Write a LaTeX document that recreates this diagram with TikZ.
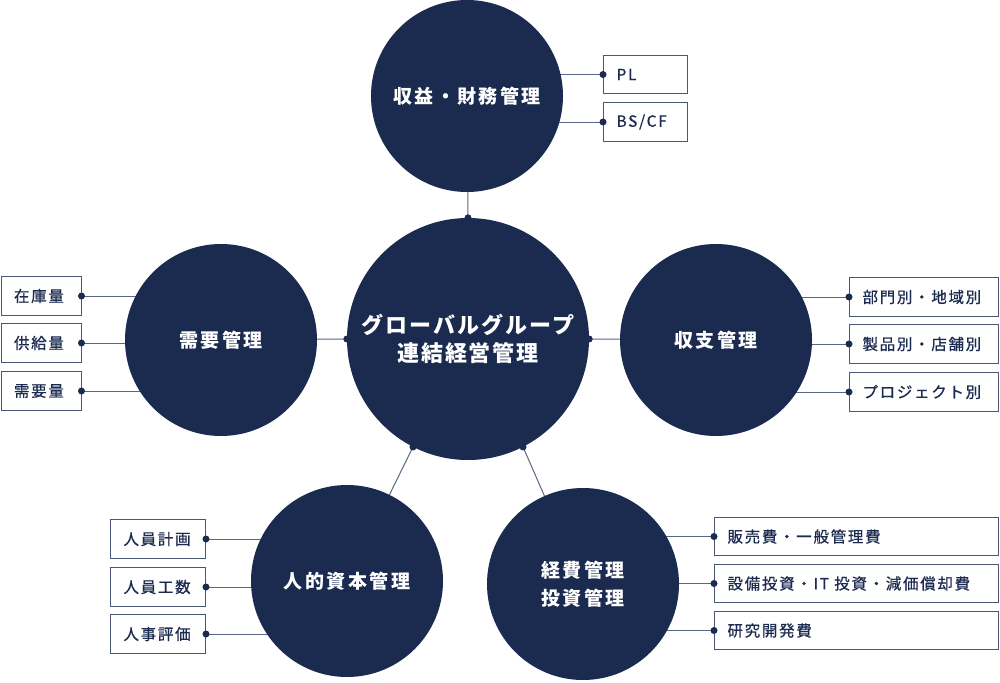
\documentclass[tikz,border=0pt]{standalone}
\usepackage{fontspec}
\usetikzlibrary{backgrounds}
\newfontfamily\jpbox{Noto Sans CJK JP}[LetterSpace=11,FakeBold=0.6]
\newfontfamily\jpcirc{Noto Sans CJK JP}[LetterSpace=13]
\newfontfamily\jpcent{Noto Sans CJK JP}[LetterSpace=9]
\newcommand\boxfnt{\jpbox\fontsize{15.5}{18}\selectfont}
\newcommand\circfnt{\jpcirc\bfseries\fontsize{19}{28}\selectfont}
\newcommand\centfnt{\jpcent\bfseries\fontsize{22}{28}\selectfont}
\definecolor{navy}{HTML}{1B2A4F}
\definecolor{boxline}{HTML}{4B5675}
\definecolor{linecol}{HTML}{5B6585}
\tikzset{
  circ/.style={circle, fill=navy, minimum size=192pt, inner sep=0pt, text=white, font=\circfnt, align=center},
  bigcirc/.style={circ, minimum size=242pt, font=\centfnt},
  item/.style={draw=boxline, fill=white, line width=1pt, minimum height=39pt, inner xsep=13pt, inner ysep=0pt, anchor=north west, align=left, text=navy, font=\boxfnt},
  conn/.style={draw=linecol, line width=1pt},
  dotc/.style={fill=navy}
}
\begin{document}
\begin{tikzpicture}[x=1pt,y=-1pt]
\useasboundingbox (0,0) rectangle (1000,682);
% circles
\node[circ] (top) at (467,96) {収益・財務管理};
\node[bigcirc] (c) at (468,339) {グローバルグループ\\連結経営管理};
\node[circ] (dm) at (221,340) {需要管理};
\node[circ] (sy) at (716,340) {収支管理};
\node[circ] (hr) at (347,581) {人的資本管理};
\node[circ] (ex) at (583,584) {経費管理\\投資管理};
% boxes
\node[item, text width=58pt, minimum height=38pt] (pl) at (603,55) {PL};
\node[item, text width=58pt] (bs) at (603,102) {BS/CF};
\node[item, text width=54pt] (zk) at (0.5,276) {在庫量};
\node[item, text width=54pt] (kk) at (0.5,323) {供給量};
\node[item, text width=54pt] (jy) at (0.5,371) {需要量};
\node[item, text width=123pt] (bm) at (849,277) {部門別・地域別};
\node[item, text width=123pt] (sh) at (849,324) {製品別・店舗別};
\node[item, text width=123pt] (pj) at (849,372) {プロジェクト別};
\node[item, text width=69pt] (jk) at (110,519) {人員計画};
\node[item, text width=69pt] (jc) at (110,567) {人員工数};
\node[item, text width=69pt] (jh) at (110,614) {人事評価};
\node[item, text width=258pt, minimum height=38pt] (hb) at (714,517) {販売費・一般管理費};
\node[item, text width=258pt, minimum height=38pt] (sb) at (714,564) {設備投資・IT 投資・減価償却費};
\node[item, text width=258pt, minimum height=38pt] (kh) at (714,611) {研究開発費};
% connectors
\begin{pgfonlayer}{background}
\draw[conn] (top.center) -- (c.north);
\draw[conn] (dm.center) -- (c.west);
\draw[conn] (sy.center) -- (c.east);
\draw[conn] (hr.center) -- (c.-117);
\draw[conn] (ex.center) -- (c.-63);
\foreach \b/\t in {pl/top,bs/top,bm/sy,sh/sy,pj/sy,hb/ex,sb/ex,kh/ex}{
  \draw[conn] (\b.west) -- (\b.west -| \t.center);
}
\foreach \b/\t in {zk/dm,kk/dm,jy/dm,jk/hr,jc/hr,jh/hr}{
  \draw[conn] (\b.east) -- (\b.east -| \t.center);
}
\end{pgfonlayer}
% dots
\foreach \p in {c.north,c.west,c.east,c.-117,c.-63,pl.west,bs.west,bm.west,sh.west,pj.west,hb.west,sb.west,kh.west,zk.east,kk.east,jy.east,jk.east,jc.east,jh.east}{
  \fill[dotc] (\p) circle (3.5pt);
}
\end{tikzpicture}
\end{document}
